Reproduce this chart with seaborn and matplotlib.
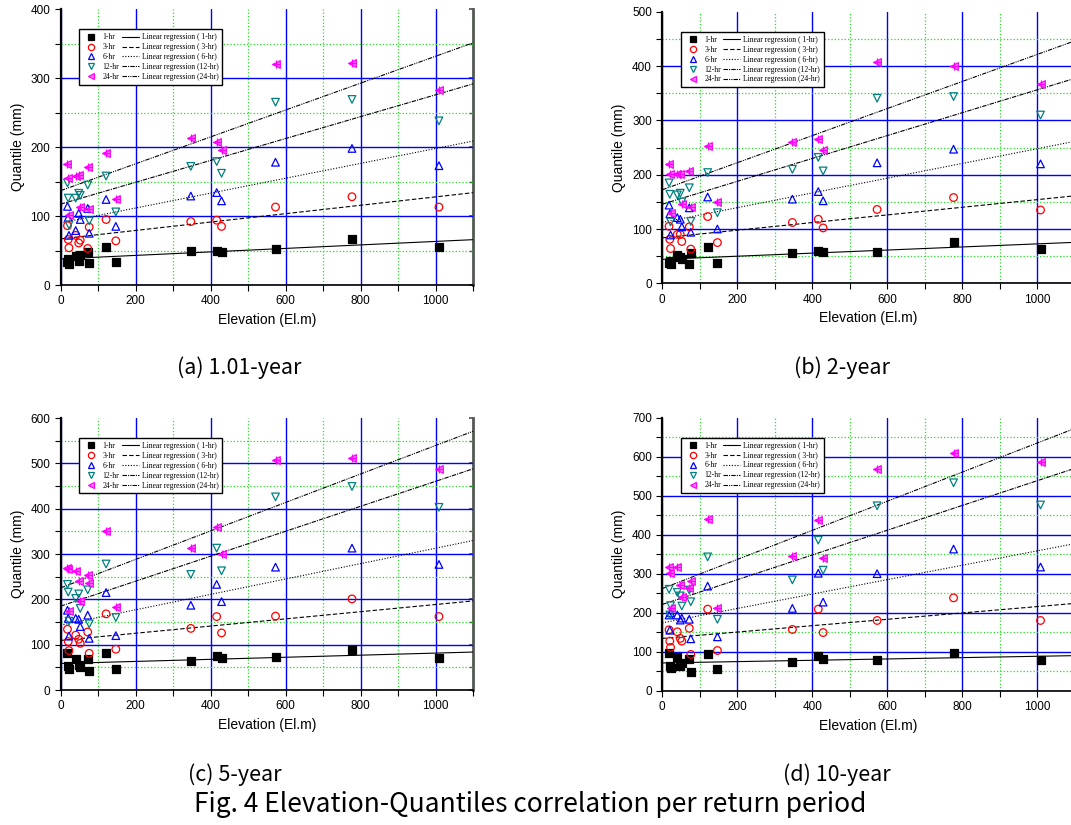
import numpy as np
import pandas as pd
import matplotlib
matplotlib.use('Agg')
import matplotlib.pyplot as plt
from matplotlib.lines import Line2D
from matplotlib.ticker import MultipleLocator
import seaborn as sns

# station elevations (El.m)
elevation = [18, 20, 22, 40, 48, 52, 72, 76, 121, 147, 347, 416, 429, 573, 777, 1009]
durations = ['1-hr', '3-hr', '6-hr', '12-hr', '24-hr']

# (a) 1.01-year quantiles (mm)
a_1hr = [33, 38, 31, 42, 35, 44, 48, 32, 55, 33, 49, 50, 48, 52, 67, 55]
a_3hr = [86, 66, 54, 72, 61, 65, 53, 84, 95, 64, 92, 94, 85, 113, 128, 113]
a_6hr = [114, 98, 72, 79, 104, 95, 111, 75, 124, 85, 129, 134, 122, 178, 198, 173]
a_12hr = [148, 126, 87, 126, 133, 130, 145, 93, 158, 106, 172, 179, 162, 265, 269, 238]
a_24hr = [176, 155, 101, 158, 160, 113, 171, 110, 192, 124, 213, 207, 196, 320, 322, 283]

# (b) 2-year
b_1hr = [38, 42, 36, 52, 48, 44, 36, 56, 66, 37, 55, 60, 58, 58, 77, 63]
b_3hr = [105, 81, 64, 90, 90, 77, 104, 63, 123, 75, 112, 118, 102, 136, 158, 135]
b_6hr = [144, 128, 89, 121, 118, 104, 139, 94, 159, 100, 155, 169, 152, 222, 247, 220]
b_12hr = [185, 164, 113, 163, 166, 150, 176, 114, 204, 130, 210, 232, 207, 341, 344, 310]
b_24hr = [220, 201, 129, 201, 201, 147, 206, 140, 253, 150, 260, 266, 245, 408, 401, 368]

# (c) 5-year
c_1hr = [81, 53, 46, 68, 55, 50, 69, 42, 81, 46, 65, 75, 70, 73, 88, 70]
c_3hr = [134, 107, 87, 121, 112, 103, 128, 81, 168, 90, 136, 162, 126, 163, 201, 162]
c_6hr = [176, 158, 119, 158, 156, 140, 165, 114, 215, 120, 187, 233, 195, 271, 313, 277]
c_12hr = [233, 216, 152, 202, 212, 180, 221, 146, 278, 160, 255, 313, 263, 426, 449, 403]
c_24hr = [269, 267, 175, 263, 241, 197, 254, 235, 351, 184, 313, 360, 300, 507, 512, 487]

# (d) 10-year
d_1hr = [96, 63, 57, 86, 63, 70, 80, 49, 94, 56, 73, 89, 80, 79, 96, 78]
d_3hr = [156, 127, 111, 151, 134, 127, 160, 93, 209, 103, 157, 209, 149, 180, 238, 180]
d_6hr = [194, 155, 200, 194, 181, 186, 183, 133, 268, 138, 211, 301, 227, 300, 363, 317]
d_12hr = [260, 194, 218, 252, 243, 217, 258, 228, 343, 183, 284, 386, 309, 474, 533, 476]
d_24hr = [318, 301, 213, 318, 271, 240, 264, 281, 440, 211, 345, 438, 340, 568, 609, 586]

captions = ['(a) 1.01-year', '(b) 2-year', '(c) 5-year', '(d) 10-year']
y_max = [400, 500, 600, 700]
fig_caption = 'Fig. 4 Elevation-Quantiles correlation per return period'

panels = [
    [a_1hr, a_3hr, a_6hr, a_12hr, a_24hr],
    [b_1hr, b_3hr, b_6hr, b_12hr, b_24hr],
    [c_1hr, c_3hr, c_6hr, c_12hr, c_24hr],
    [d_1hr, d_3hr, d_6hr, d_12hr, d_24hr],
]

sns.set_theme(style='white')
plt.rcParams['font.family'] = ['Liberation Sans Narrow', 'Liberation Sans', 'DejaVu Sans']
plt.rcParams.update({'text.color': 'black', 'axes.labelcolor': 'black',
                     'xtick.color': 'black', 'ytick.color': 'black'})

marker_style = {
    '1-hr': dict(marker='s', facecolor='black', edgecolor='black'),
    '3-hr': dict(marker='o', facecolor='none', edgecolor='red'),
    '6-hr': dict(marker='^', facecolor='none', edgecolor='blue'),
    '12-hr': dict(marker='v', facecolor='none', edgecolor='#008080'),
    '24-hr': dict(marker='<', facecolor='#ff80ff', edgecolor='magenta'),
}
line_style = {
    '1-hr': '-',
    '3-hr': (0, (4, 2)),
    '6-hr': (0, (1, 1.5)),
    '12-hr': (0, (4, 1, 1, 1)),
    '24-hr': (0, (4, 1, 1, 1, 1, 1)),
}

fig = plt.figure(figsize=(10.71, 8.25), dpi=100)
# axes rectangles in figure fraction
rects = [
    [0.0567, 0.6545, 0.385, 0.3345],
    [0.6184, 0.6566, 0.385, 0.3290],
    [0.0567, 0.1636, 0.385, 0.3297],
    [0.6184, 0.1628, 0.385, 0.3310],
]

axes = []
for i, series in enumerate(panels):
    ax = fig.add_axes(rects[i])
    axes.append(ax)
    ax.set_xlim(0, 1100)
    ax.set_ylim(0, y_max[i])
    ax.xaxis.set_major_locator(MultipleLocator(200))
    ax.xaxis.set_minor_locator(MultipleLocator(100))
    ax.yaxis.set_major_locator(MultipleLocator(100))
    ax.yaxis.set_minor_locator(MultipleLocator(50))
    ax.grid(which='major', color='#0000ff', lw=1.0, ls='-')
    ax.grid(which='minor', color='#22dd22', lw=0.9, ls=':')
    ax.set_axisbelow(True)

    for dur, vals in zip(durations, series):
        st = marker_style[dur]
        sns.regplot(x=elevation, y=vals, scatter=False, ci=None, truncate=False,
                    color='black', line_kws=dict(lw=0.8, ls=line_style[dur]), ax=ax)
        sns.scatterplot(x=elevation, y=vals, marker=st['marker'], s=30,
                        facecolor=st['facecolor'], edgecolor=st['edgecolor'],
                        linewidth=0.9, ax=ax, zorder=3)
        if dur == '24-hr':
            sns.scatterplot(x=elevation, y=vals, marker='+', s=40,
                            color='magenta', linewidth=0.9, ax=ax, zorder=4)

    ax.set_xlim(0, 1100)
    ax.set_ylim(0, y_max[i])
    ax.set_xticks([0, 200, 400, 600, 800, 1000])
    ax.set_xlabel('Elevation (El.m)', fontsize=10)
    ax.set_ylabel('Quantile (mm)', fontsize=10)
    ax.tick_params(which='both', direction='out', length=4, width=0.8,
                   color='black', labelsize=8.5, left=True, bottom=True)
    ax.spines['top'].set_visible(False)
    ax.spines['right'].set_visible(False)
    ax.spines['left'].set_linewidth(1.6)
    ax.spines['left'].set_color('black')
    ax.spines['bottom'].set_linewidth(1.2)
    ax.spines['bottom'].set_color('black')

    sec = ax.secondary_yaxis('right')
    sec.yaxis.set_major_locator(MultipleLocator(100))
    sec.yaxis.set_minor_locator(MultipleLocator(50))
    sec.tick_params(which='both', direction='in', length=3, color='#555555', labelright=False)
    sec.spines['right'].set_color('#555555')
    sec.spines['right'].set_linewidth(2)

    handles = [Line2D([], [], ls='none', marker=marker_style[d]['marker'], markersize=4.5,
                      markerfacecolor=marker_style[d]['facecolor'],
                      markeredgecolor=marker_style[d]['edgecolor'], markeredgewidth=0.9)
               for d in durations]
    handles += [Line2D([], [], color='black', lw=0.8, ls=line_style[d]) for d in durations]
    labels = durations + ['Linear regression ( 1-hr)', 'Linear regression ( 3-hr)',
                          'Linear regression ( 6-hr)', 'Linear regression (12-hr)',
                          'Linear regression (24-hr)']
    leg = ax.legend(handles, labels, ncol=2, loc='upper left', bbox_to_anchor=(0.035, 0.94),
                    prop=dict(family=['Liberation Serif', 'DejaVu Serif'], size=5.5),
                    frameon=True, fancybox=False, edgecolor='black', framealpha=1,
                    handlelength=2.2, handletextpad=0.4, columnspacing=0.3,
                    labelspacing=0.25, borderpad=0.5)
    leg.get_frame().set_linewidth(1.0)
    leg.set_zorder(10)

cap_font = dict(fontsize=15.5, fontweight='medium', family=['Noto Sans CJK KR', 'DejaVu Sans'])
fig.text(239 / 1071, 1 - 368 / 825, captions[0], ha='center', va='center', **cap_font)
fig.text(842 / 1071, 1 - 368 / 825, captions[1], ha='center', va='center', **cap_font)
fig.text(188 / 1071, 1 - 775 / 825, captions[2], ha='left', va='center', **cap_font)
fig.text(783 / 1071, 1 - 775 / 825, captions[3], ha='left', va='center', **cap_font)
fig.text(530 / 1071, 1 - 805 / 825, fig_caption, ha='center', va='center',
         fontsize=19, fontweight='medium', family=['Noto Sans CJK KR', 'DejaVu Sans'])

# no gridline along the top edge of each panel
fig.canvas.draw()
for ax, top in zip(axes, y_max):
    for t in ax.yaxis.get_major_ticks():
        if abs(t.get_loc() - top) < 1e-6:
            t.gridline.set_visible(False)

fig.savefig('out.png', dpi=100)
